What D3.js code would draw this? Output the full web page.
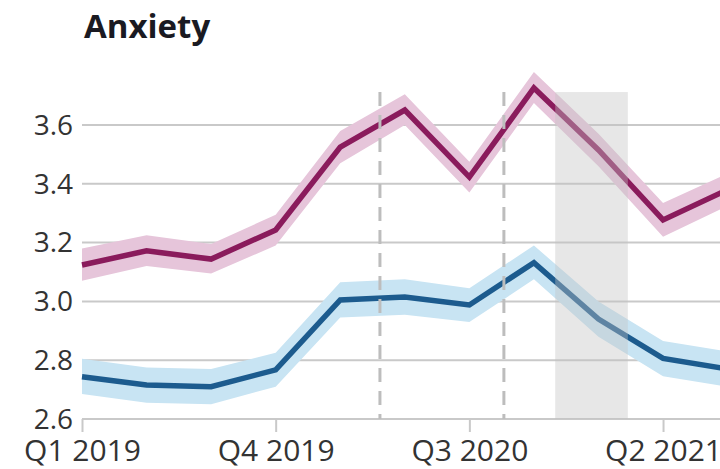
<!DOCTYPE html>
<html>
<head>
<meta charset="utf-8">
<script src="https://cdn.jsdelivr.net/npm/d3@7"></script>
<style>
  html, body { margin: 0; padding: 0; background: #fff; }
  svg { display: block; font-family: "Open Sans", "Noto Sans", sans-serif; }
</style>
</head>
<body>
<svg id="chart" width="720" height="469"></svg>
<script>
// ---- data ----
const quarters = ["Q1 2019","Q2 2019","Q3 2019","Q4 2019","Q1 2020","Q2 2020","Q3 2020","Q4 2020","Q1 2021","Q2 2021","Q3 2021"];
const tickQuarters = ["Q1 2019","Q4 2019","Q3 2020","Q2 2021"];
const yTicks = [2.6, 2.8, 3.0, 3.2, 3.4, 3.6];

const purpleValues = [3.124, 3.172, 3.144, 3.243, 3.525, 3.651, 3.423, 3.726, 3.515, 3.277, 3.38];
const purpleLower  = [3.07, 3.12, 3.095, 3.19, 3.47, 3.60, 3.37, 3.675, 3.46, 3.22, 3.325];
const purpleUpper  = [3.18, 3.225, 3.195, 3.295, 3.58, 3.705, 3.475, 3.78, 3.57, 3.335, 3.435];

const blueValues = [2.744, 2.716, 2.71, 2.767, 3.005, 3.015, 2.988, 3.132, 2.94, 2.806, 2.77];
const blueLower  = [2.685, 2.655, 2.65, 2.71, 2.945, 2.955, 2.93, 3.075, 2.88, 2.745, 2.71];
const blueUpper  = [2.805, 2.775, 2.77, 2.825, 3.065, 3.075, 3.045, 3.19, 3.0, 2.865, 2.83];

// events in quarter-index units
const dashedEvents = [4.615, 6.535];
const shadedPeriod = [7.33, 8.455];
const eventTop = 3.712;

// ---- layout ----
const svg = d3.select("#chart");
const W = 720, H = 469;
const x = d3.scaleLinear().domain([0, 10]).range([82, 727.6]);
const y = d3.scaleLinear().domain([2.6, 3.6]).range([419, 125]);

const purple = "#8a1b5c", purpleBand = "#e6c5da";
const blue = "#1c5b8e", blueBand = "#c8e4f3";

// title
svg.append("text").attr("x", 84).attr("y", 38)
  .attr("font-size", 33).attr("font-weight", 700).attr("fill", "#1a1a22")
  .text("Anxiety");

// gridlines
svg.append("g").selectAll("line").data(yTicks).join("line")
  .attr("x1", x(0)).attr("x2", W)
  .attr("y1", d => y(d)).attr("y2", d => y(d))
  .attr("stroke", "#c9c9c9").attr("stroke-width", 2);

// y labels
svg.append("g").selectAll("text").data(yTicks).join("text")
  .attr("x", 73).attr("y", d => y(d)).attr("dy", "0.35em")
  .attr("text-anchor", "end").attr("font-size", 28).attr("fill", "#333")
  .text(d => d.toFixed(1));

// x axis
const xAxis = d3.axisBottom(x)
  .tickValues(tickQuarters.map(q => quarters.indexOf(q)))
  .tickFormat(i => quarters[i])
  .tickSize(13).tickPadding(8);
const gx = svg.append("g").attr("transform", `translate(0,${y(2.6)})`).call(xAxis);
gx.select(".domain").remove();
gx.selectAll(".tick line").attr("stroke", "#c9c9c9").attr("stroke-width", 2);
gx.selectAll(".tick text").attr("font-size", 30).attr("fill", "#333")
  .attr("font-family", "\"Open Sans\", sans-serif");

// bands and lines
const idx = d3.range(quarters.length);
const area = (lo, hi) => d3.area().x(i => x(i)).y0(i => y(lo[i])).y1(i => y(hi[i]))(idx);
const line = vals => d3.line().x(i => x(i)).y(i => y(vals[i]))(idx);

svg.append("path").attr("d", area(purpleLower, purpleUpper)).attr("fill", purpleBand);
svg.append("path").attr("d", area(blueLower, blueUpper)).attr("fill", blueBand);
svg.append("path").attr("d", line(purpleValues)).attr("fill", "none")
  .attr("stroke", purple).attr("stroke-width", 5.5).attr("stroke-linejoin", "miter");
svg.append("path").attr("d", line(blueValues)).attr("fill", "none")
  .attr("stroke", blue).attr("stroke-width", 5.5).attr("stroke-linejoin", "miter");

// shaded period overlay
svg.append("rect")
  .attr("x", x(shadedPeriod[0])).attr("width", x(shadedPeriod[1]) - x(shadedPeriod[0]))
  .attr("y", y(eventTop)).attr("height", y(2.6) - y(eventTop))
  .attr("fill", "#c4c4c4").attr("opacity", 0.4);

// dashed event lines
svg.append("g").selectAll("line").data(dashedEvents).join("line")
  .attr("x1", d => x(d)).attr("x2", d => x(d))
  .attr("y1", y(eventTop)).attr("y2", y(2.6))
  .attr("stroke", "#bdbdbd").attr("stroke-width", 3)
  .attr("stroke-dasharray", "14,9");
</script>
</body>
</html>
